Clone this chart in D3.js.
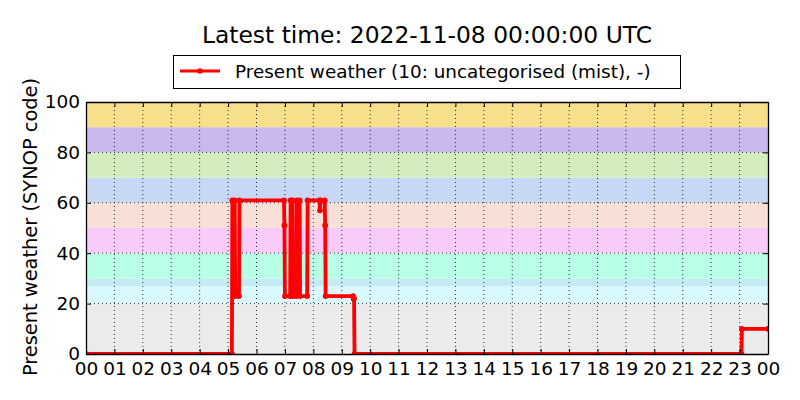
<!DOCTYPE html>
<html>
<head>
<meta charset="utf-8">
<script src="https://cdn.jsdelivr.net/npm/d3@7"></script>
<style>
  body { margin: 0; background: #fff; }
  svg { font-family: "DejaVu Sans", sans-serif; }
</style>
</head>
<body>
<svg id="chart" width="800" height="400"></svg>
<script>
// observations (UTC, 2022-11-07), only where the code changes
const obsTimes = [
    "00:00", "05:08", "05:09", "05:14", "05:15", "05:23", "05:24", "06:58",
    "06:59", "07:00", "07:11", "07:12", "07:16", "07:17", "07:24", "07:25",
    "07:31", "07:32", "07:47", "07:48", "08:13", "08:14", "08:15", "08:24",
    "08:25", "08:26", "09:24", "09:25", "09:26", "09:27", "23:04", "23:05",
    "24:00"
];
const obsCodes = [
    0, 0, 61, 61, 23, 23, 61, 61,
    51, 23, 23, 61, 61, 23, 23, 61,
    61, 23, 23, 61, 61, 57, 61, 61,
    51, 23, 23, 22, 22, 0, 0, 10,
    10
];

// SYNOP code ranges shaded behind the plot
const bandFrom = [0, 20, 27, 30, 40, 50, 60, 70, 80, 90];
const bandTo = [20, 27, 30, 40, 50, 60, 70, 80, 90, 100];
const bandColours = ["#ebebeb", "#d9f9fe", "#c4ebf4", "#b9ffe5", "#f9cbf9",
    "#f8e0d8", "#c9d7f6", "#d3edbe", "#c9b9ed", "#f8df8b"];

const yTicks = [0, 20, 40, 60, 80, 100];
const titleText = "Latest time: 2022-11-08 00:00:00 UTC";
const legendText = "Present weather (10: uncategorised (mist), -)";
const yLabel = "Present weather (SYNOP code)";

const day = Date.UTC(2022, 10, 7);
const toDate = s => {
    const [h, mm] = s.split(":").map(Number);
    return new Date(day + (h * 60 + mm) * 60000);
};
const data = obsTimes.map((t, i) => ({ t: toDate(t), v: obsCodes[i] }));

const m = { left: 86, right: 768, top: 102, bottom: 354 };
const svg = d3.select("#chart");

const x = d3.scaleUtc()
    .domain([new Date(day), new Date(day + 86400000)])
    .range([m.left, m.right]);
const y = d3.scaleLinear().domain([0, 100]).range([m.bottom, m.top]);

svg.append("defs").append("clipPath").attr("id", "plot")
    .append("rect")
    .attr("x", m.left).attr("y", m.top)
    .attr("width", m.right - m.left).attr("height", m.bottom - m.top);

svg.append("g").selectAll("rect")
    .data(bandFrom)
    .join("rect")
    .attr("x", m.left)
    .attr("width", m.right - m.left)
    .attr("y", (d, i) => y(bandTo[i]))
    .attr("height", (d, i) => y(d) - y(bandTo[i]))
    .attr("fill", (d, i) => bandColours[i]);

// dotted grid
const hours = d3.utcHour.every(1).range(x.domain()[0], new Date(day + 86400001));
const grid = svg.append("g")
    .attr("stroke", "#000")
    .attr("stroke-width", 0.8)
    .attr("stroke-dasharray", "1,3");
grid.selectAll(".gx").data(hours.slice(1, -1)).join("line")
    .attr("x1", d => x(d)).attr("x2", d => x(d))
    .attr("y1", m.top).attr("y2", m.bottom);
grid.selectAll(".gy").data(yTicks.slice(1, -1)).join("line")
    .attr("x1", m.left).attr("x2", m.right)
    .attr("y1", d => y(d)).attr("y2", d => y(d));

// series
const line = d3.line().x(d => x(d.t)).y(d => y(d.v));
const series = svg.append("g").attr("clip-path", "url(#plot)");
series.append("path")
    .datum(data)
    .attr("d", line)
    .attr("fill", "none")
    .attr("stroke", "#ff0000")
    .attr("stroke-width", 3.8)
    .attr("stroke-linejoin", "round");
series.selectAll("circle").data(data).join("circle")
    .attr("cx", d => x(d.t))
    .attr("cy", d => y(d.v))
    .attr("r", 2.9)
    .attr("fill", "#ff0000");

// axes, ticks pointing inwards on all sides
const fmt = d3.utcFormat("%H");
const axes = [
    svg.append("g").attr("transform", `translate(0,${m.bottom})`)
        .call(d3.axisBottom(x).tickValues(hours).tickFormat(fmt)
            .tickSize(-5).tickSizeOuter(0).tickPadding(8)),
    svg.append("g").attr("transform", `translate(${m.left},0)`)
        .call(d3.axisLeft(y).tickValues(yTicks)
            .tickSize(-5).tickSizeOuter(0).tickPadding(6)),
    svg.append("g").attr("transform", `translate(0,${m.top})`)
        .call(d3.axisTop(x).tickValues(hours).tickFormat("")
            .tickSize(-5).tickSizeOuter(0)),
    svg.append("g").attr("transform", `translate(${m.right},0)`)
        .call(d3.axisRight(y).tickValues(yTicks).tickFormat("")
            .tickSize(-5).tickSizeOuter(0))
];
axes.forEach(g => {
    g.select(".domain").attr("stroke", "#000").attr("stroke-width", 1.3);
    g.selectAll(".tick line").attr("stroke", "#000").attr("stroke-width", 1);
    g.selectAll(".tick text")
        .attr("fill", "#000")
        .style("font-family", "DejaVu Sans")
        .style("font-size", "18.5px");
});

svg.append("text")
    .attr("x", (m.left + m.right) / 2)
    .attr("y", 43)
    .attr("text-anchor", "middle")
    .style("font-size", "23.4px")
    .text(titleText);

svg.append("text")
    .attr("transform", `translate(37,227) rotate(-90)`)
    .attr("text-anchor", "middle")
    .style("font-size", "19.4px")
    .text(yLabel);

// legend
const legend = svg.append("g");
legend.append("rect")
    .attr("x", 173.5).attr("y", 55.5)
    .attr("width", 507).attr("height", 33)
    .attr("fill", "#fff").attr("stroke", "#000").attr("stroke-width", 1);
legend.append("line")
    .attr("x1", 180).attr("x2", 220).attr("y1", 71).attr("y2", 71)
    .attr("stroke", "#ff0000").attr("stroke-width", 3);
legend.append("circle")
    .attr("cx", 200).attr("cy", 71).attr("r", 2.8).attr("fill", "#ff0000");
legend.append("text")
    .attr("x", 235).attr("y", 78)
    .style("font-size", "18.4px")
    .text(legendText);
</script>
</body>
</html>
